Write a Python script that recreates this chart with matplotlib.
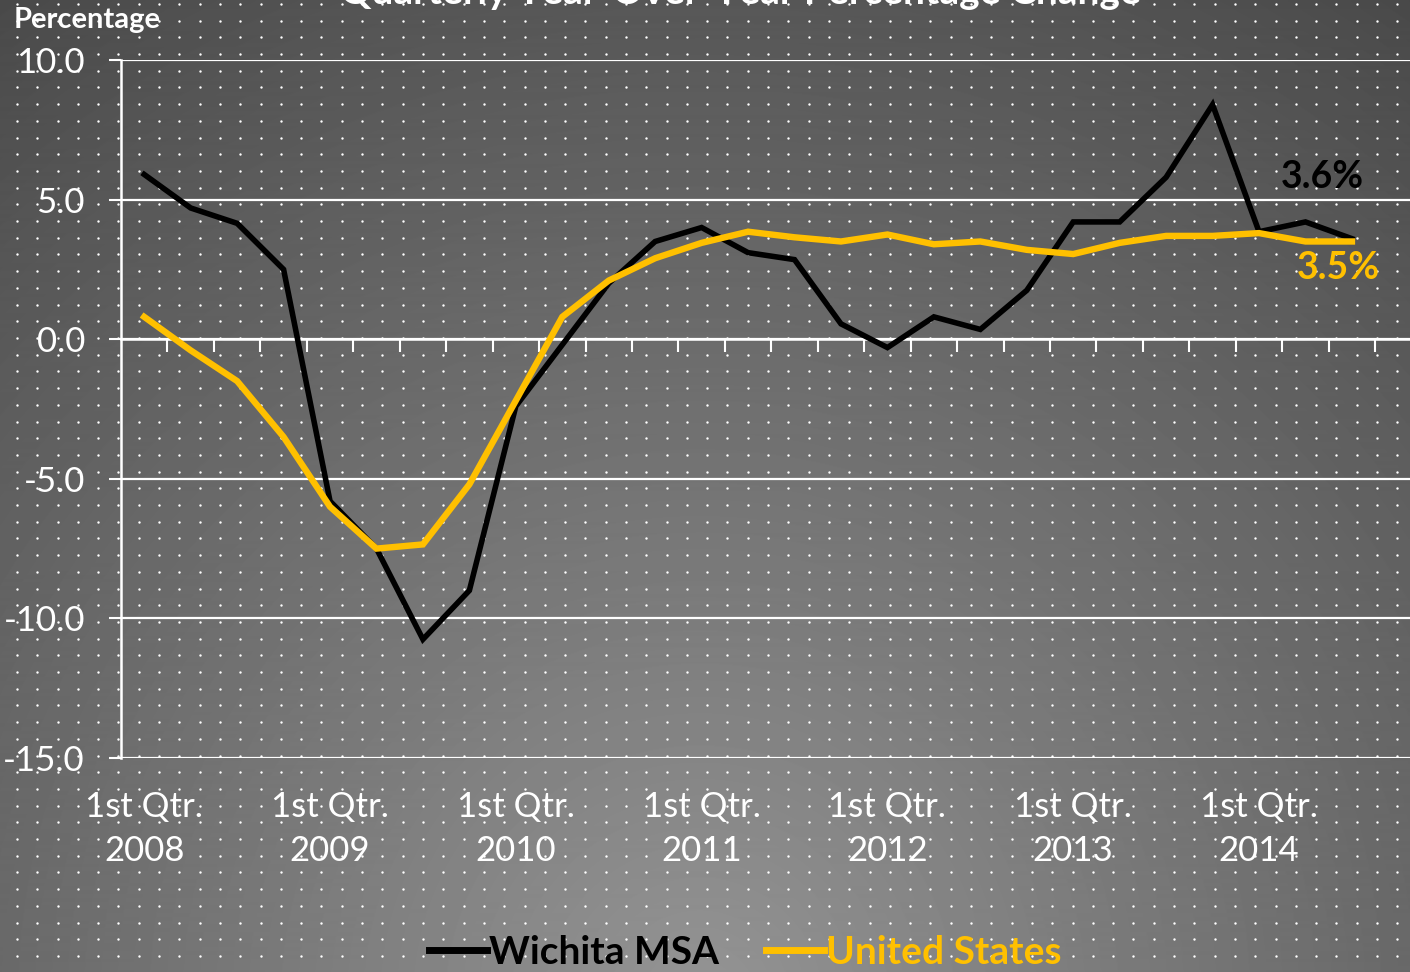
import numpy as np
import matplotlib
matplotlib.use('Agg')
from matplotlib import pyplot as plt

# quarterly year-over-year % change, 1st Qtr 2008 .. 3rd Qtr 2014
wichita = [5.9, 4.7, 4.15, 2.5, -5.8, -7.5, -10.75, -9.0,
           -2.4, -0.2, 2.0, 3.5, 4.0, 3.1, 2.85, 0.55,
           -0.3, 0.8, 0.35, 1.75, 4.2, 4.2, 5.8, 8.4,
           3.85, 4.2, 3.6]
united_states = [0.8, -0.4, -1.5, -3.5, -6.0, -7.5, -7.35, -5.2,
                 -2.2, 0.8, 2.1, 2.9, 3.45, 3.85, 3.65, 3.5,
                 3.75, 3.4, 3.5, 3.2, 3.05, 3.45, 3.7, 3.7,
                 3.8, 3.5, 3.5]
year_labels = ['1st Qtr.\n2008', '1st Qtr.\n2009', '1st Qtr.\n2010', '1st Qtr.\n2011',
               '1st Qtr.\n2012', '1st Qtr.\n2013', '1st Qtr.\n2014']
year_positions = [0, 4, 8, 12, 16, 20, 24]
y_ticks = [-15, -10, -5, 0, 5, 10]

plt.rcParams['font.family'] = ['Lato', 'DejaVu Sans']

W, H = 1410, 972
fig = plt.figure(figsize=(W / 100, H / 100), dpi=100)

# background: radial grey gradient with a dotted pattern
bg = fig.add_axes([0, 0, 1, 1], zorder=-10)
yy, xx = np.mgrid[0:H, 0:W]
dist = np.hypot(xx - 700, yy - 1000)
shade = 0.58 - 0.29 * dist / 1220
bg.imshow(shade, cmap='gray', vmin=0, vmax=1, aspect='auto', extent=[0, W, H, 0])
dx, dy = np.meshgrid(np.arange(17, W, 20.3), np.arange(4, H, 16.7))
bg.scatter(dx.ravel(), dy.ravel(), s=3, color='white', linewidths=0)
bg.set_xlim(0, W)
bg.set_ylim(H, 0)
bg.axis('off')

left = 121 / W
bottom = (H - 758) / H
height = 698 / H
width = 28 * 46.45 / W
ax = fig.add_axes([left, bottom, width, height])
ax.set_facecolor('none')

x = np.arange(len(wichita))
ax.plot(x, wichita, color='black', lw=4.0, label='Wichita MSA', solid_joinstyle='miter', zorder=3)
ax.plot(x, united_states, color='#FFC000', lw=4.6, label='United States', solid_joinstyle='miter', zorder=4)

ax.set_xlim(-0.5, 27.5)
ax.set_ylim(-15, 10)
ax.set_yticks(y_ticks)
ax.set_yticklabels(['%.1f' % v for v in y_ticks], fontsize=25, color='white')
ax.yaxis.grid(True, color='white', lw=1.6)
ax.tick_params(axis='y', length=9, width=1.5, color='white', pad=17)

for s in ['top', 'right']:
    ax.spines[s].set_visible(False)
ax.spines['left'].set_color('white')
ax.spines['left'].set_linewidth(1.8)
ax.spines['bottom'].set_position(('data', 0))
ax.spines['bottom'].set_color('white')
ax.spines['bottom'].set_linewidth(1.8)
ax.set_xticks(np.arange(0.5, 28, 1))
ax.tick_params(axis='x', length=9, width=1.5, color='white', labelbottom=False)

lab = ax.secondary_xaxis(0)
lab.set_xticks(year_positions)
lab.set_xticklabels(year_labels, fontsize=25, color='white', linespacing=1.45)
lab.tick_params(length=0, pad=24)
lab.spines['bottom'].set_visible(False)

ax.annotate('3.6%', xy=(x[-1], wichita[-1]), xytext=(-30, 62), textcoords='offset pixels',
            ha='center', va='center', fontsize=27, fontweight='bold', color='black')
ax.annotate('3.5%', xy=(x[-1], united_states[-1]), xytext=(-14, -27), textcoords='offset pixels',
            ha='center', va='center', fontsize=27, fontweight='bold', color='#FFC000')

fig.text(14 / W, 1 - 20 / H, 'Percentage', fontsize=21, fontweight='bold', color='white',
         ha='left', va='center')
fig.text(740 / W, 1 - 4 / H, 'Quarterly Year-Over-Year Percentage Change', fontsize=28,
         fontweight='bold', color='white', ha='center', va='baseline')

leg = fig.legend(loc='center', bbox_to_anchor=(745 / W, 1 - 952 / H), ncol=2, frameon=False,
                 prop={'size': 28, 'weight': 'bold'}, labelcolor='linecolor',
                 handlelength=1.5, handletextpad=0.05, columnspacing=1.2)
for h in leg.legend_handles:
    h.set_linewidth(5)

fig.savefig('out.png', dpi=100)
